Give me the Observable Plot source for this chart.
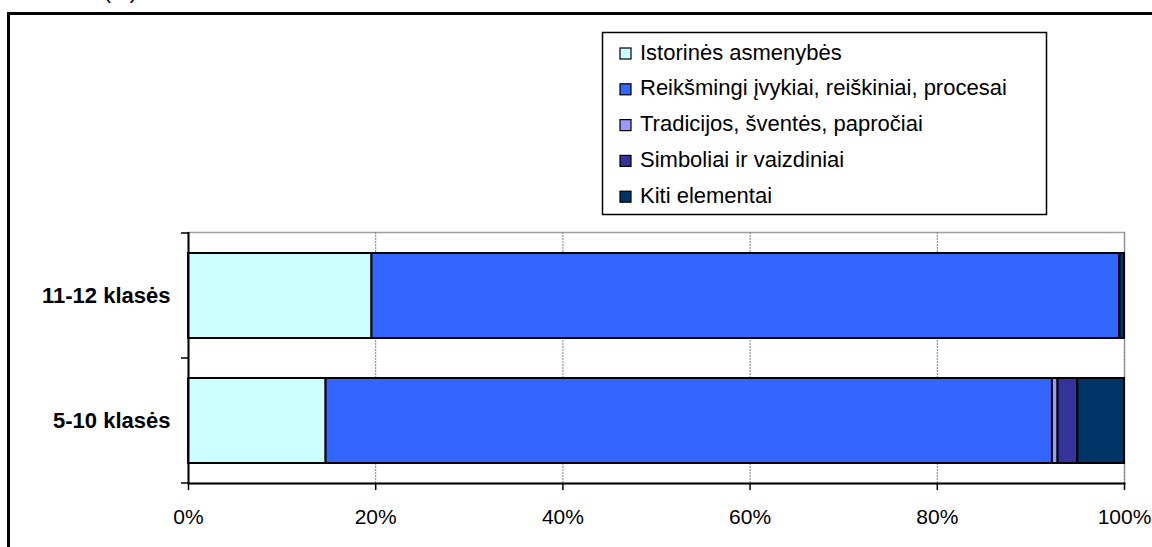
<!DOCTYPE html>
<html>
<head>
<meta charset="utf-8">
<script src="https://cdn.jsdelivr.net/npm/d3@7"></script>
<script src="https://cdn.jsdelivr.net/npm/@observablehq/plot@0.6"></script>
<style>
  html, body { margin: 0; padding: 0; background: #fff; overflow: hidden; }
  #chart svg { display: block; }
</style>
</head>
<body>
<div id="chart"></div>
<script>
// ---- data ----
const categories = ["11-12 klasės", "5-10 klasės"];
const series = [
  "Istorinės asmenybės",
  "Reikšmingi įvykiai, reiškiniai, procesai",
  "Tradicijos, šventės, papročiai",
  "Simboliai ir vaizdiniai",
  "Kiti elementai"
];
const colors = ["#CCFFFF", "#3366FF", "#9999FF", "#333399", "#003366"];
const values_11_12 = [19.6, 79.9, 0, 0, 0.5];
const values_5_10 = [14.7, 77.6, 0.6, 2.1, 5.0];
const xTicks = [0, 0.2, 0.4, 0.6, 0.8, 1];
const topNote = "(%)";

// ---- table ----
const valuesByCategory = [values_11_12, values_5_10];
const rows = [];
categories.forEach((c, ci) => {
  series.forEach((s, si) => {
    const v = valuesByCategory[ci][si];
    if (v > 0) rows.push({category: c, series: s, value: v});
  });
});

const font = "'Liberation Sans', Arial, Helvetica, sans-serif";

const chart = Plot.plot({
  width: 1152,
  height: 547,
  marginLeft: 188,
  marginRight: 28,
  marginTop: 232,
  marginBottom: 64,
  style: {fontFamily: font, fontSize: "21px", color: "#000", background: "#fff", overflow: "visible"},
  x: {domain: [0, 1], label: null},
  y: {domain: categories, paddingInner: 0.323, paddingOuter: 0.161, label: null},
  color: {domain: series, range: colors},
  marks: [
    Plot.frame({stroke: "#a0a0a0", strokeWidth: 1.5}),
    Plot.gridX({ticks: xTicks.slice(1), stroke: "#808080", strokeOpacity: 1, strokeDasharray: "2,1"}),
    Plot.barX(rows, Plot.stackX({
      x: "value", y: "category", fill: "series", offset: "normalize", order: null,
      stroke: "#000", strokeWidth: 2
    })),
    Plot.ruleX([0], {stroke: "#000", strokeWidth: 2}),
    Plot.frame({anchor: "bottom", stroke: "#000", strokeWidth: 2}),
    Plot.axisX({ticks: xTicks, tickFormat: d3.format(".0%"), tickSize: 7, tickPadding: 19,
      stroke: "#000", strokeWidth: 1.5, fill: "#000", fontSize: 21, label: null}),
    Plot.axisY({tickSize: 0, tickPadding: 18, fontWeight: "bold", fill: "#000", fontSize: 22, label: null})
  ]
});

document.getElementById("chart").appendChild(chart);

// ---- extras: category boundary ticks, legend, outer frame ----
const svg = d3.select(chart);
const y = chart.scale("y");
const xs = chart.scale("x");
const x0 = xs.apply(0);
const half = (y.step - y.bandwidth) / 2;
const bounds = categories.map(c => y.apply(c) - half);
bounds.push(y.apply(categories[categories.length - 1]) + y.bandwidth + half);
svg.append("g").selectAll("line").data(bounds).join("line")
  .attr("x1", x0 - 7).attr("x2", x0)
  .attr("y1", d => d).attr("y2", d => d)
  .attr("stroke", "#000").attr("stroke-width", 1.5);

// legend
const lg = svg.append("g").attr("font-family", font).attr("font-size", 22).attr("text-anchor", "start");
lg.append("rect").attr("x", 602.5).attr("y", 32.5).attr("width", 444).attr("height", 182)
  .attr("fill", "#fff").attr("stroke", "#000").attr("stroke-width", 1.5);
series.forEach((s, i) => {
  const base = 59.5 + i * 35.8;
  lg.append("rect").attr("x", 620).attr("y", base - 11.5).attr("width", 11).attr("height", 11)
    .attr("fill", colors[i]).attr("stroke", "#000").attr("stroke-width", 1.2);
  lg.append("text").attr("x", 640).attr("y", base).attr("fill", "#000").text(s);
});

// outer frame and clipped note
svg.append("rect").attr("x", 8.5).attr("y", 13.5).attr("width", 1200).attr("height", 600)
  .attr("fill", "none").attr("stroke", "#000").attr("stroke-width", 3);
svg.append("text").attr("x", 104).attr("y", -1).attr("font-family", font).attr("font-size", 21)
  .attr("text-anchor", "start").attr("fill", "#000").text(topNote);
</script>
</body>
</html>
